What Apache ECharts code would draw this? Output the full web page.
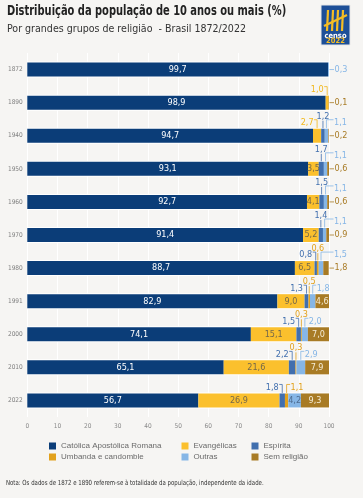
<!DOCTYPE html>
<html><head><meta charset="utf-8">
<script src="https://cdn.jsdelivr.net/npm/echarts@6/dist/echarts.min.js"></script>
<style>html,body{margin:0;padding:0;background:#f6f5f3}#c{width:363px;height:498px}</style>
</head><body><div id="c"></div>
<script>
// ---- data ----
const years = ['1872','1890','1940','1950','1960','1970','1980','1991','2000','2010','2022'];
const catolica    = [99.7, 98.9, 94.7, 93.1, 92.7, 91.4, 88.7, 82.9, 74.1, 65.1, 56.7];
const evangelicas = [0,    1.0,  2.7,  3.5,  4.1,  5.2,  6.5,  9.0,  15.1, 21.6, 26.9];
const espirita    = [0,    0,    1.2,  1.7,  1.5,  1.4,  0.8,  1.3,  1.5,  2.2,  1.8];
const umbanda     = [0,    0,    0,    0,    0,    0,    0.6,  0.5,  0.3,  0.3,  1.1];
const outras      = [0.3,  0,    1.1,  1.1,  1.1,  1.1,  1.5,  1.8,  2.0,  2.9,  4.2];
const semReligiao = [0,    0.1,  0.2,  0.6,  0.6,  0.9,  1.8,  4.6,  7.0,  7.9,  9.3];
const xTicks = [0,10,20,30,40,50,60,70,80,90,100];
const seriesNames = ['Católica Apostólica Romana','Evangélicas','Espírita','Umbanda e candomble','Outras','Sem religião'];

// ---- styling ----
const FONT = "'Liberation Sans Narrow','DejaVu Sans Condensed','Roboto Condensed','Liberation Sans',sans-serif";
const colors = ['#0b3d78','#fbc02d','#416fae','#e2a11c','#86b6e6','#a87b25'];
const labelColors = ['#ffffff','#f2b81c','#416fae','#e2a11c','#86b6e6','#a87b25'];
const insideColors = ['#ffffff','#75684a','#ffffff','#ffffff','#4e6d92','#f4ecd6'];
const insideMin = [0, 3.4, 99, 99, 4, 4];
const allSeries = [catolica, evangelicas, espirita, umbanda, outras, semReligiao];
const fmt = v => v.toFixed(1).replace('.', ',');

// ---- annotations (rule based) ----
const annData = [];
years.forEach((y, i) => {
  let cum = 0;
  const starts = allSeries.map(s => { const st = cum; cum += s[i]; return st; });
  const lastIdx = allSeries.reduce((acc, s, k) => s[i] > 0 ? k : acc, 0);
  const hasEnd = semReligiao[i] > 0 && semReligiao[i] < 4;
  allSeries.forEach((s, k) => {
    const v = s[i];
    if (v <= 0 || k === 0 || v >= insideMin[k]) return;
    let mode;
    if (k === lastIdx) mode = 3;                       // end label
    else if (k === 1) mode = 0;                        // left bracket
    else if (k === 2) mode = umbanda[i] > 0 ? 0 : 2;   // left bracket / high
    else if (k === 3) mode = outras[i] >= 4 ? 1 : 2;   // right bracket / high
    else mode = 1;                                     // right bracket
    annData.push([i, starts[k], starts[k] + v, k, mode, hasEnd ? 1 : 0, v]);
  });
});

function renderAnn(params, api) {
  const row = api.value(0), s = api.value(1), e = api.value(2);
  const k = api.value(3), mode = api.value(4), hasEnd = api.value(5), v = api.value(6);
  const p1 = api.coord([s, row]), p2 = api.coord([e, row]);
  const xEnd = api.coord([100, row])[0];
  const cx = (p1[0] + p2[0]) / 2, cy = p1[1];
  const col = labelColors[k];
  const top = cy - 7.5;
  let tx, ty, align, pts;
  if (mode === 0) {            // left, low
    tx = cx - 3.5; ty = cy - 13; align = 'right';
    pts = [[cx - 3, cy - 16], [cx, cy - 16], [cx, top]];
  } else if (mode === 1) {     // right, low
    const lx = hasEnd ? xEnd + 5 : cx + 4;
    tx = lx; ty = cy - 13; align = 'left';
    pts = [[cx, top], [cx, cy - 16], [lx - 0.5, cy - 16]];
  } else if (mode === 2) {     // high, centered
    tx = cx; ty = cy - 19.5; align = 'center';
    pts = [[cx, cy - 15], [cx, top]];
  } else {                     // end
    tx = xEnd + 5.5; ty = cy; align = 'left';
    pts = [[xEnd + 0.5, cy], [xEnd + 5, cy]];
  }
  return {
    type: 'group',
    children: [
      { type: 'polyline', shape: { points: pts }, style: { stroke: col, fill: null, lineWidth: 0.8 } },
      { type: 'text', style: { text: fmt(v), x: tx, y: ty, fill: col, align: align, verticalAlign: 'middle',
        fontSize: 9, fontFamily: FONT } }
    ]
  };
}

const totals = years.map((y, i) => allSeries.reduce((a, s) => a + s[i], 0));

const barSeries = allSeries.map((arr, k) => ({
  name: seriesNames[k], type: 'bar', stack: 'total', barWidth: 14, yAxisIndex: 0,
  data: arr, itemStyle: { color: colors[k] }, z: 3,
  label: { show: true, position: 'inside', fontFamily: FONT, fontSize: 9, color: insideColors[k],
    formatter: p => (p.value >= insideMin[k] ? fmt(p.value) : '') }
}));

const chart = echarts.init(document.getElementById('c'), null, { renderer: 'canvas' });
const legendBase = { orient: 'vertical', icon: 'rect', itemWidth: 7, itemHeight: 7, itemGap: 3, padding: 0,
  selectedMode: false, textStyle: { fontFamily: "'Liberation Sans','Arial',sans-serif", fontSize: 8, color: '#6a6a6a' } };

chart.setOption({
  backgroundColor: '#f6f5f3',
  animation: false,
  grid: { left: 27.3, right: 34, top: 53, bottom: 81 },
  xAxis: {
    type: 'value', min: xTicks[0], max: xTicks[xTicks.length - 1], interval: 10,
    axisLine: { show: false }, axisTick: { show: false },
    splitLine: { show: true, lineStyle: { color: '#ffffff', width: 1 } },
    axisLabel: { fontFamily: FONT, fontSize: 6.5, color: '#8a8a8a', margin: 6 }
  },
  yAxis: [
    { type: 'category', data: years, inverse: true, axisLine: { show: false }, axisTick: { show: false },
      axisLabel: { fontFamily: FONT, fontSize: 6.5, color: '#808080', margin: 4.5 } },
    { type: 'category', data: years, inverse: true, show: false }
  ],
  legend: [
    Object.assign({}, legendBase, { left: 49, top: 442, data: [seriesNames[0], seriesNames[3]] }),
    Object.assign({}, legendBase, { left: 181.5, top: 442, data: [seriesNames[1], seriesNames[4]] }),
    Object.assign({}, legendBase, { left: 251.5, top: 442, data: [seriesNames[2], seriesNames[5]] })
  ],
  series: [
    { type: 'bar', yAxisIndex: 1, barWidth: 16, data: totals, itemStyle: { color: '#ffffff' }, z: 2,
      silent: true, legendHoverLink: false, tooltip: { show: false } },
    ...barSeries,
    { type: 'custom', name: 'ann', coordinateSystem: 'cartesian2d', xAxisIndex: 0, yAxisIndex: 0,
      renderItem: renderAnn, data: annData, encode: { x: [1, 2], y: 0 }, z: 5, silent: true }
  ],
  graphic: [
    { type: 'text', x: 7, y: 4.5, scaleX: 0.815, style: { text: 'Distribuição da população de 10 anos ou mais (%)',
      fontFamily: FONT, fontSize: 13.5, fontWeight: 'bold', fill: '#222' } },
    { type: 'text', x: 7, y: 24, scaleX: 0.96, style: { text: 'Por grandes grupos de religião  - Brasil 1872/2022',
      fontFamily: FONT, fontSize: 11, fill: '#333' } },
    { type: 'text', x: 6, y: 480, scaleX: 0.86, style: { text: 'Nota: Os dados de 1872 e 1890 referem-se à totalidade da população, independente da idade.',
      fontFamily: FONT, fontSize: 7, fill: '#333' } },
    { type: 'group', x: 321, y: 5, children: [
      { type: 'rect', shape: { x: 0, y: 0, width: 29, height: 40 }, style: { fill: '#1d4f97', stroke: '#e8e8e8', lineWidth: 1 } },
      { type: 'polyline', shape: { points: [[7, 5], [6, 26]] }, style: { stroke: '#f6bd23', lineWidth: 2.2 } },
      { type: 'polyline', shape: { points: [[12, 5], [11, 26]] }, style: { stroke: '#f6bd23', lineWidth: 2.2 } },
      { type: 'polyline', shape: { points: [[17, 5], [16, 26]] }, style: { stroke: '#f6bd23', lineWidth: 2.2 } },
      { type: 'polyline', shape: { points: [[22, 5], [21, 26]] }, style: { stroke: '#f6bd23', lineWidth: 2.2 } },
      { type: 'polyline', shape: { points: [[3, 21], [26, 10]] }, style: { stroke: '#f6bd23', lineWidth: 2.2 } },
      { type: 'text', style: { text: 'censo', x: 14.5, y: 31, align: 'center', verticalAlign: 'middle', fontFamily: FONT, fontSize: 7.5, fontWeight: 'bold', fill: '#ffffff' } },
      { type: 'text', style: { text: '2022', x: 14.5, y: 36.5, align: 'center', verticalAlign: 'middle', fontFamily: FONT, fontSize: 7.5, fontWeight: 'bold', fill: '#f6bd23' } }
    ] }
  ]
});
</script></body></html>
